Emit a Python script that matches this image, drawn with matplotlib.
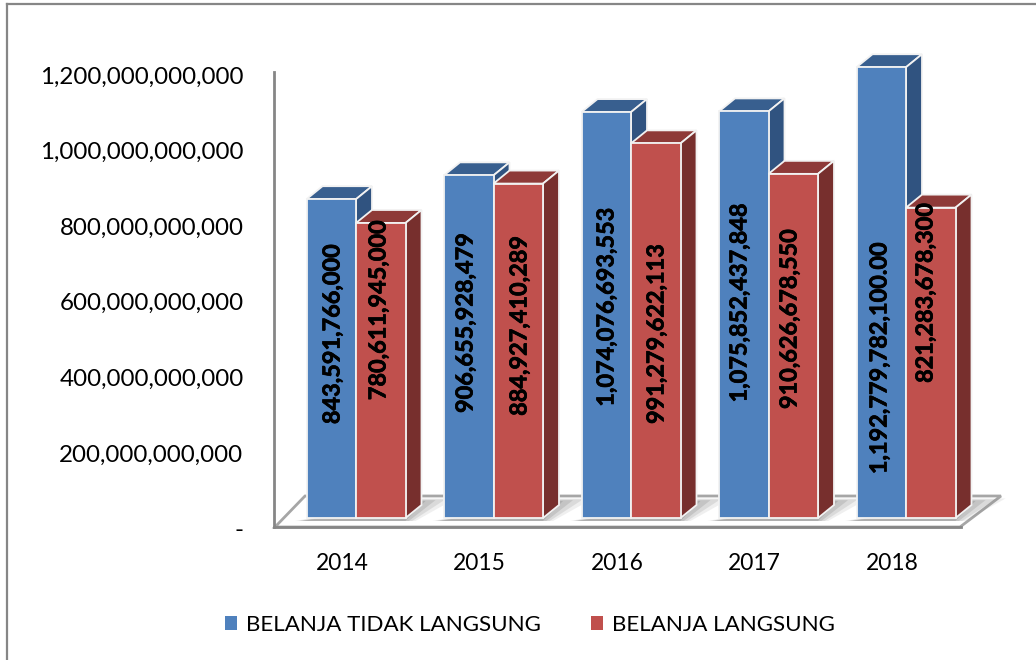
import matplotlib
matplotlib.use("Agg")
import matplotlib.pyplot as plt
import matplotlib.patheffects as pe
from matplotlib.lines import Line2D
from matplotlib.patches import Patch, Polygon
from matplotlib.ticker import FuncFormatter
from matplotlib.transforms import ScaledTranslation

plt.rcParams["font.family"] = ["Lato", "DejaVu Sans"]

# Data
years = ["2014", "2015", "2016", "2017", "2018"]
tidak_langsung = [843591766000, 906655928479, 1074076693553, 1075852437848, 1192779782100]
langsung = [780611945000, 884927410289, 991279622113, 910626678550, 821283678300]
series_names = ["BELANJA TIDAK LANGSUNG", "BELANJA LANGSUNG"]
y_ticks = [0, 200e9, 400e9, 600e9, 800e9, 1000e9, 1200e9]

# Hand placed label centres in the source chart, in pixels
blue_label_x = [333, 466, 607, 740, 880]
blue_label_y = [334, 323, 307, 303, 358]
red_label_x = [379, 520, 657, 790, 926]
red_label_y = [310, 326, 334, 319, 293]

W, H = 1036, 660
LEFT, RIGHT, TOP, BOTTOM = 274, 961, 72, 527
CAT_STEP = 137.5
TICK0 = 342
Y_PER_PX = 1200e9 / 453.5
BASE_PX = 518
BAR_PX = 49.5
DEPTH_X, DEPTH_Y = 16, 13

fig = plt.figure(figsize=(W / 100, H / 100), dpi=100)
ax = fig.add_axes([LEFT / W, 1 - BOTTOM / H, (RIGHT - LEFT) / W, (BOTTOM - TOP) / H])
ax.set_xlim((LEFT - TICK0) / CAT_STEP, (RIGHT - TICK0) / CAT_STEP)
ax.set_ylim(0, (BOTTOM - TOP) * Y_PER_PX)


def dx(px):
    return px / CAT_STEP


def dy(px):
    return px * Y_PER_PX


def to_x(px):
    return (px - TICK0) / CAT_STEP


def to_y(px):
    return (BOTTOM - px) * Y_PER_PX


# Floor
floor = [(275, 527), (305, 496), (1001, 496), (960, 527)]
ax.add_patch(Polygon([(to_x(a), to_y(b)) for a, b in floor], fc="white", ec="#A6A6A6",
                     lw=2, clip_on=False, zorder=1))

# Shadows on the floor
positions = list(range(len(years)))
base = dy(BOTTOM - BASE_PX)
first_offset = dx(14)
width = dx(BAR_PX)
for i in positions:
    l = TICK0 + CAT_STEP * i + 14 - BAR_PX
    r = l + 2 * BAR_PX
    for grow, alpha in [(30, 0.12), (20, 0.18), (10, 0.24), (0, 0.30)]:
        shadow = [(l - 4 - grow / 4, 521), (r + grow / 3, 521), (r + 20 + grow, 501 - grow / 12),
                  (r + 16, 501 - grow / 12)]
        ax.add_patch(Polygon([(to_x(a), to_y(b)) for a, b in shadow], fc="#7F7F7F", ec="none",
                             alpha=alpha, clip_on=False, zorder=1.5))


# 3D faces of a bar, drawn as polygons around the 2D bar
def faces(x_left, value, top_col, side_col, z):
    x_right = x_left + width
    y_top = base + value
    ox, oy = dx(DEPTH_X), dy(DEPTH_Y)
    top = [(x_left, y_top), (x_right, y_top), (x_right + ox, y_top + oy), (x_left + ox, y_top + oy)]
    side = [(x_right, base), (x_right, y_top), (x_right + ox, y_top + oy), (x_right + ox, base + oy)]
    ax.add_patch(Polygon(top, fc=top_col, ec="#F2F2F2", lw=1.3, clip_on=False, zorder=z))
    ax.add_patch(Polygon(side, fc=side_col, ec="#F2F2F2", lw=1.3, clip_on=False, zorder=z))


blue_x = [i + first_offset - width for i in positions]
red_x = [i + first_offset for i in positions]
for i in positions:
    faces(blue_x[i], tidak_langsung[i], "#385F8F", "#305380", 3)
    faces(red_x[i], langsung[i], "#8E3A38", "#772F2D", 4.5)

ax.bar(blue_x, tidak_langsung, width=width, bottom=base, align="edge", color="#4F81BD",
       edgecolor="#F2F2F2", linewidth=1.3, clip_on=False, zorder=4)
ax.bar(red_x, langsung, width=width, bottom=base, align="edge", color="#C0504D",
       edgecolor="#F2F2F2", linewidth=1.3, clip_on=False, zorder=5)

# Data labels, Lato Bold is lighter than the source so thicken it a little
thick = [pe.withStroke(linewidth=0.5, foreground="black")]
for i in positions:
    text = f"{tidak_langsung[i]:,}"
    if years[i] == "2018":
        text += ".00"
    ax.text(to_x(blue_label_x[i]), to_y(blue_label_y[i]), text, rotation=90, ha="center", va="center",
            fontsize=16.9, fontweight="bold", color="black", clip_on=False, zorder=6, path_effects=thick)
    ax.text(to_x(red_label_x[i]), to_y(red_label_y[i]), f"{langsung[i]:,}", rotation=90, ha="center",
            va="center", fontsize=16.9, fontweight="bold", color="black", clip_on=False, zorder=6,
            path_effects=thick)

# Axes
for s in ["top", "right"]:
    ax.spines[s].set_visible(False)
for s in ["left", "bottom"]:
    ax.spines[s].set_color("#868686")
    ax.spines[s].set_linewidth(2)
ax.patch.set_visible(False)
ax.set_xticks(positions, years)
ax.set_yticks(y_ticks)
ax.yaxis.set_major_formatter(FuncFormatter(lambda v, _: "-" if v == 0 else f"{v:,.0f}"))
ax.tick_params(axis="y", length=0, pad=22, labelsize=17.4, labelcolor="black")
ax.tick_params(axis="x", length=0, pad=19, labelsize=16.4, labelcolor="black")
# y labels sit a bit lower than the ticks in the source
nudge = ScaledTranslation(0, -1.5 / 100, fig.dpi_scale_trans)
for lbl in ax.get_yticklabels():
    lbl.set_transform(lbl.get_transform() + nudge)

# Legend
handles = [Patch(fc="#4F81BD", ec="none"), Patch(fc="#C0504D", ec="none")]
fig.legend(handles, series_names, ncol=2, loc="center", bbox_to_anchor=(530 / W, 1 - 625 / H), frameon=False,
           fontsize=16.15, handlelength=0.55, handleheight=0.55, handletextpad=0.4, columnspacing=2.2)

# Outer frame, only the left and top edges are in the picture
fig.add_artist(Line2D([7 / W, 7 / W], [0, 1 - 4 / H], color="#868686", lw=1.6))
fig.add_artist(Line2D([7 / W, 1], [1 - 4 / H, 1 - 4 / H], color="#868686", lw=1.6))

fig.savefig("out.png", dpi=100)
